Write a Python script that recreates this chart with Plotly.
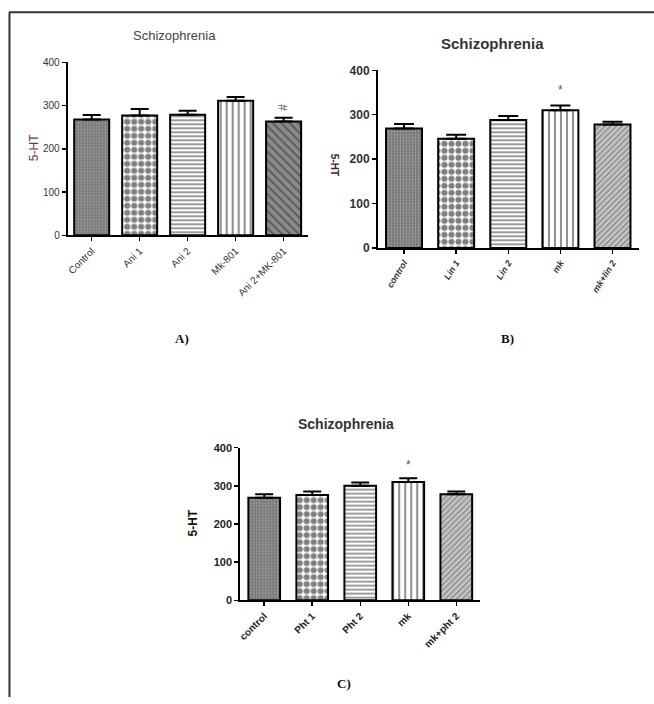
import plotly.graph_objects as go

W, H = 654, 704

# ---- data ----
cats_a = ["Control", "Ani 1", "Ani 2", "Mk-801", "Ani 2+MK-801"]
vals_a = [268, 277, 279, 311, 263]
err_a = [10, 15, 9, 9, 9]

cats_b = ["control", "Lin 1", "Lin 2", "mk", "mk+lin 2"]
vals_b = [269, 246, 288, 310, 278]
err_b = [10, 9, 9, 11, 6]

cats_c = ["control", "Pht 1", "Pht 2", "mk", "mk+pht 2"]
vals_c = [269, 276, 300, 310, 278]
err_c = [9, 9, 9, 10, 7]

sig_a = ["", "", "", "", "#"]
sig_b = ["", "", "", "*", ""]
sig_c = ["", "", "", "*", ""]

y_ticks = [0, 100, 200, 300, 400]

# vertical calibration of the photographed page
VS, VO = 0.98, 6.7


def px(x):
    return x / W


def py(y):
    return 1 - ((y - VO) / VS) / H


patterns_a = [
    dict(shape=".", bgcolor="#6e6e6e", fgcolor="#cfcfcf", size=3, solidity=0.45),
    dict(shape=".", bgcolor="#ffffff", fgcolor="#000000", size=7, solidity=0.6),
    dict(shape="-", bgcolor="#ffffff", fgcolor="#222222", size=4, solidity=0.45),
    dict(shape="|", bgcolor="#ffffff", fgcolor="#222222", size=6, solidity=0.35),
    dict(shape="\\", bgcolor="#8a8a8a", fgcolor="#222222", size=6, solidity=0.3),
]
patterns_bc = [
    dict(shape=".", bgcolor="#6e6e6e", fgcolor="#cfcfcf", size=3, solidity=0.45),
    dict(shape=".", bgcolor="#ffffff", fgcolor="#000000", size=7, solidity=0.6),
    dict(shape="-", bgcolor="#ffffff", fgcolor="#222222", size=4, solidity=0.45),
    dict(shape="|", bgcolor="#ffffff", fgcolor="#222222", size=6, solidity=0.35),
    dict(shape="/", bgcolor="#c8c8c8", fgcolor="#555555", size=4, solidity=0.4),
]

fig = go.Figure()


def add_panel(cats, vals, errs, pats, xa, ya, width, cap):
    for i, (c, v, e) in enumerate(zip(cats, vals, errs)):
        fig.add_trace(go.Bar(
            x=[c], y=[v],
            width=width,
            marker=dict(color=pats[i]["bgcolor"], pattern=pats[i],
                        line=dict(color="#000000", width=2)),
            error_y=dict(type="data", array=[e], arrayminus=[0], symmetric=False,
                         color="#000000", thickness=2, width=cap),
            xaxis=xa, yaxis=ya, showlegend=False, hoverinfo="skip",
        ))


add_panel(cats_a, vals_a, err_a, patterns_a, "x", "y", 0.73, 9)
add_panel(cats_b, vals_b, err_b, patterns_bc, "x2", "y2", 0.69, 10)
add_panel(cats_c, vals_c, err_c, patterns_bc, "x3", "y3", 0.66, 9)

axis_common = dict(showline=True, linecolor="#000000", linewidth=2,
                   ticks="outside", ticklen=4, tickwidth=1.5, tickcolor="#000000",
                   showgrid=False, zeroline=False, fixedrange=True)

fig.update_layout(
    width=W, height=H,
    margin=dict(l=0, r=0, t=0, b=0),
    paper_bgcolor="white", plot_bgcolor="white",
    bargap=0,
    xaxis=dict(domain=[px(65), px(306)], anchor="y", range=[-0.5, 4.5],
               tickangle=-45, tickfont=dict(family="Liberation Sans", size=10, color="#333333"),
               **axis_common),
    yaxis=dict(domain=[py(235), py(62)], anchor="x", range=[0, 400], tickvals=y_ticks,
               tickfont=dict(family="Liberation Sans", size=10, color="#333333"),
               **axis_common),
    xaxis2=dict(domain=[px(376.7), px(638.5)], anchor="y2", range=[-0.5, 4.5],
                tickangle=-58,
                tickfont=dict(family="Liberation Sans", size=9, color="#333333",
                              weight="bold", style="italic"),
                **axis_common),
    yaxis2=dict(domain=[py(247.7), py(70)], anchor="x2", range=[0, 400], tickvals=y_ticks,
                tickfont=dict(family="Liberation Sans", size=12, color="#333333", weight="bold"),
                **axis_common),
    xaxis3=dict(domain=[px(238.3), px(479.5)], anchor="y3", range=[-0.5, 4.5],
                tickangle=-45,
                tickfont=dict(family="Liberation Sans", size=10, color="#222222", weight="bold"),
                **axis_common),
    yaxis3=dict(domain=[py(600), py(447.3)], anchor="x3", range=[0, 400], tickvals=y_ticks,
                tickfont=dict(family="Liberation Sans", size=11, color="#222222", weight="bold"),
                **axis_common),
)

ann = []


def paper_text(text, x, y, size, color, weight="normal", angle=0, family="Liberation Sans"):
    ann.append(dict(text=text, x=px(x), y=py(y), xref="paper", yref="paper",
                    xanchor="center", yanchor="middle", textangle=angle, showarrow=False,
                    font=dict(family=family, size=size, color=color, weight=weight)))


# titles
paper_text("Schizophrenia", 172, 35, 13, "#444444")
paper_text("Schizophrenia", 492, 43, 15, "#333333", "bold")
paper_text("Schizophrenia", 345, 424, 14, "#333333", "bold")
# y titles
paper_text("5-HT", 31, 147, 12, "#7a3535", angle=-90)
paper_text("5-HT", 333, 165, 10, "#4a2020", "bold", angle=90)
paper_text("5-HT", 191, 523, 12, "#111111", "bold", angle=-90)
# panel letters
for t, x, y in [("A)", 180, 338), ("B)", 507, 338), ("C)", 343, 683)]:
    paper_text(t, x, y, 13, "#111111", "bold", family="Liberation Serif")

# significance marks
for cats, vals, errs, sigs, xr, yr, shift, ang in [
    (cats_a, vals_a, err_a, sig_a, "x", "y", 5, -90),
    (cats_b, vals_b, err_b, sig_b, "x2", "y2", 6, 0),
    (cats_c, vals_c, err_c, sig_c, "x3", "y3", 4, 0),
]:
    for c, v, e, s in zip(cats, vals, errs, sigs):
        if s:
            ann.append(dict(text=s, x=c, y=v + e, xref=xr, yref=yr, yanchor="bottom",
                            yshift=shift, textangle=ang, showarrow=False,
                            font=dict(family="Liberation Sans", size=12, color="#555555")))

fig.update_layout(annotations=ann)

# outer frame (top and left edges)
fig.add_shape(type="line", xref="paper", yref="paper", x0=px(6), x1=1.0, y0=py(12), y1=py(12),
              line=dict(color="#333333", width=2))
fig.add_shape(type="line", xref="paper", yref="paper", x0=px(6.5), x1=px(6.5), y0=py(12), y1=0,
              line=dict(color="#333333", width=2))

fig.write_html(
    "out.html",
    config={"displayModeBar": False, "staticPlot": True},
    post_script=(
        "var s=document.documentElement.style;s.margin='0';s.padding='0';s.overflow='hidden';"
        "s.height='704px';var b=document.body.style;b.margin='0';b.padding='0';"
        "b.overflow='hidden';b.height='704px';"
    ),
)
